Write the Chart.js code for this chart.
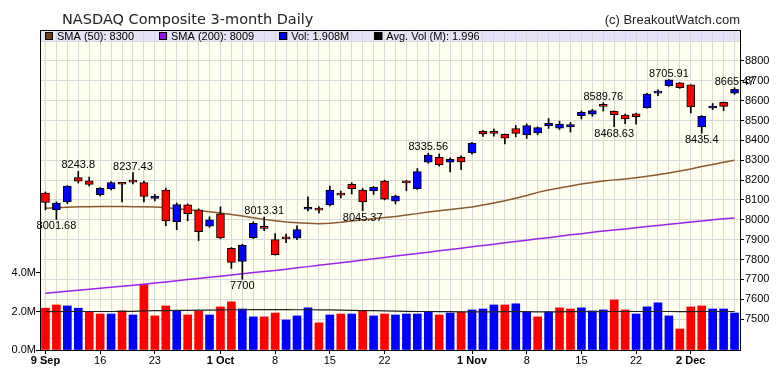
<!DOCTYPE html>
<html lang="en">
<head>
<meta charset="UTF-8">
<title>NASDAQ Composite 3-month Daily</title>
<script src="https://cdn.jsdelivr.net/npm/chart.js@4.4.1/dist/chart.umd.min.js"></script>
<style>
    body { margin: 0; background: #ffffff; }
    #wrap { width: 780px; height: 376px; }
</style>
</head>
<body>
<div id="wrap"><canvas id="chart" width="780" height="376"></canvas></div>
<script>
// trading days 9 Sep - 6 Dec
const days = [
    'Sep 9', 'Sep 10', 'Sep 11', 'Sep 12', 'Sep 13', 'Sep 16', 'Sep 17', 'Sep 18', 'Sep 19', 'Sep 20',
    'Sep 23', 'Sep 24', 'Sep 25', 'Sep 26', 'Sep 27', 'Sep 30',
    'Oct 1', 'Oct 2', 'Oct 3', 'Oct 4', 'Oct 7', 'Oct 8', 'Oct 9', 'Oct 10', 'Oct 11', 'Oct 14',
    'Oct 15', 'Oct 16', 'Oct 17', 'Oct 18', 'Oct 21', 'Oct 22', 'Oct 23', 'Oct 24', 'Oct 25', 'Oct 28',
    'Oct 29', 'Oct 30', 'Oct 31',
    'Nov 1', 'Nov 4', 'Nov 5', 'Nov 6', 'Nov 7', 'Nov 8', 'Nov 11', 'Nov 12', 'Nov 13', 'Nov 14',
    'Nov 15', 'Nov 18', 'Nov 19', 'Nov 20', 'Nov 21', 'Nov 22', 'Nov 25', 'Nov 26', 'Nov 27', 'Nov 29',
    'Dec 2', 'Dec 3', 'Dec 4', 'Dec 5', 'Dec 6'
];
const xTickIndex = [0, 5, 10, 16, 21, 26, 31, 39, 44, 49, 54, 59];
const xTickLabels = ['9 Sep', '16', '23', '1 Oct', '8', '15', '22', '1 Nov', '8', '15', '22', '2 Dec'];

const open = [
    8135, 8050, 8090, 8212, 8196, 8126, 8156, 8181, 8199, 8187,
    8108, 8150, 7990, 8075, 8050, 7968, 8030, 7856, 7790, 7910,
    7962, 7900, 7905, 7907, 8053, 8052, 8075, 8130, 8178, 8150,
    8145, 8195, 8094, 8188, 8155, 8290, 8315, 8290, 8314, 8337,
    8446, 8446, 8430, 8460, 8428, 8437, 8474, 8462, 8468, 8524,
    8532, 8580, 8547, 8528, 8534, 8563, 8638, 8675, 8690, 8680,
    8468, 8563, 8592, 8638
];
const high = [
    8140, 8090, 8172, 8243.8, 8215, 8162, 8192, 8187, 8237.43, 8195,
    8128, 8160, 8085, 8080, 8055, 8015, 8065, 7860, 7877, 7990,
    8013.31, 7930, 7928, 7970, 8115, 8067, 8170, 8145, 8187, 8158,
    8168, 8200, 8124, 8198, 8258, 8335.56, 8332, 8312, 8322, 8390,
    8450, 8457, 8432, 8475, 8483, 8468, 8510, 8497, 8490, 8548,
    8556, 8589.76, 8548, 8532, 8538, 8637, 8655, 8705.91, 8691, 8680,
    8525, 8586, 8593, 8665.47
];
const low = [
    8050, 8001.68, 8082, 8185, 8170, 8120, 8150, 8090, 8180, 8090,
    8095, 7970, 7950, 7995, 7895, 7962, 7904, 7755, 7700, 7905,
    7945, 7822, 7885, 7900, 8045, 8035, 8070, 8110, 8130, 8045.37,
    8128, 8100, 8080, 8146, 8153, 8285, 8270, 8241, 8252, 8331,
    8420, 8421, 8382, 8418, 8410, 8428, 8460, 8455, 8442, 8508,
    8522, 8548, 8468.63, 8484, 8482, 8562, 8625, 8672, 8662, 8538,
    8435.4, 8555, 8550, 8632
];
const close = [
    8087, 8084, 8170, 8194, 8178, 8158, 8188, 8179, 8190, 8118,
    8115, 7994, 8077, 8031, 7940, 8000, 7909, 7785, 7872, 7982,
    7957, 7824, 7904, 7951, 8060, 8049, 8149, 8124, 8157, 8090,
    8163, 8104, 8120, 8186, 8243, 8326, 8277, 8304, 8292, 8386,
    8433, 8435, 8411, 8435, 8475, 8464, 8486, 8482, 8479, 8541,
    8550, 8571, 8530, 8508, 8520, 8633, 8648, 8705, 8666, 8568,
    8521, 8567, 8571, 8657
];
const prevClose = 8103;

// volume in millions
const volume = [
    2.17, 2.34, 2.29, 2.17, 1.98, 1.87, 1.87, 2.03, 1.82, 3.42,
    1.77, 2.29, 2.03, 1.82, 2.03, 1.82, 2.24, 2.50, 2.13, 1.72,
    1.72, 1.92, 1.56, 1.77, 2.19, 1.41, 1.82, 1.87, 1.87, 2.03,
    1.77, 1.87, 1.82, 1.87, 1.87, 1.98, 1.82, 1.92, 1.98, 2.08,
    2.13, 2.34, 2.34, 2.40, 1.98, 1.72, 1.98, 2.19, 2.13, 2.19,
    2.03, 2.08, 2.60, 2.08, 1.87, 2.24, 2.45, 1.77, 1.09, 2.24,
    2.29, 2.13, 2.13, 1.92
];
const avgVol = [
    1.99, 1.99, 2.00, 2.00, 2.00, 2.00, 2.00, 2.01, 2.01, 2.03,
    2.04, 2.05, 2.06, 2.06, 2.07, 2.07, 2.08, 2.09, 2.09, 2.10,
    2.10, 2.10, 2.10, 2.09, 2.09, 2.08, 2.08, 2.07, 2.06, 2.05,
    2.04, 2.03, 2.02, 2.01, 2.00, 2.00, 1.99, 1.99, 1.98, 1.98,
    1.98, 1.98, 1.99, 1.99, 1.99, 1.98, 1.98, 1.98, 1.99, 1.99,
    1.99, 1.99, 2.00, 2.00, 2.00, 2.00, 2.00, 2.00, 1.99, 1.99,
    2.00, 2.00, 2.00, 2.00
];
const sma50 = [
    8058, 8061, 8063, 8065, 8066, 8067, 8067, 8067, 8066, 8065,
    8064, 8060, 8056, 8051, 8046, 8040, 8034, 8027, 8019, 8010,
    8002, 7995, 7989, 7985, 7982, 7980, 7982, 7987, 7994, 8000,
    8005, 8011, 8016, 8024, 8031, 8039, 8046, 8052, 8058, 8064,
    8074, 8085, 8096, 8108, 8122, 8138, 8150, 8160, 8170, 8180,
    8188, 8195, 8201, 8206, 8212, 8219, 8227, 8236, 8246, 8256,
    8268, 8279, 8290, 8300
];
const sma200 = [
    7630, 7635, 7640, 7645, 7650, 7655, 7660, 7665, 7670, 7675,
    7681, 7687, 7693, 7699, 7704, 7710, 7716, 7722, 7728, 7734,
    7740, 7745, 7751, 7758, 7764, 7771, 7777, 7784, 7790, 7797,
    7804, 7810, 7817, 7824, 7830, 7837, 7844, 7850, 7857, 7864,
    7870, 7877, 7884, 7890, 7897, 7904, 7910, 7917, 7924, 7930,
    7937, 7943, 7949, 7954, 7960, 7966, 7971, 7977, 7983, 7989,
    7994, 8000, 8005, 8009
];

const priceGrid = [7400, 7500, 7600, 7700, 7800, 7900, 8000, 8100, 8200, 8300, 8400, 8500, 8600, 8700, 8800, 8900];
const priceLabels = [7500, 7600, 7700, 7800, 7900, 8000, 8100, 8200, 8300, 8400, 8500, 8600, 8700, 8800];
const volTicks = [0, 2, 4];

// high / low call-outs: [day index, which end, text]
const notes = [
    [1, 'low', '8001.68'], [3, 'high', '8243.8'], [8, 'high', '8237.43'], [18, 'low', '7700'],
    [20, 'high', '8013.31'], [29, 'low', '8045.37'], [35, 'high', '8335.56'], [51, 'high', '8589.76'],
    [52, 'low', '8468.63'], [57, 'high', '8705.91'], [60, 'low', '8435.4'], [63, 'high', '8665.47']
];

const legendLabels = ['SMA (50): 8300', 'SMA (200): 8009', 'Vol: 1.908M', 'Avg. Vol (M): 1.996'];
const legendColors = ['#6e3f14', '#9a10f0', '#0000ff', '#000000'];

const UP = '#0000ff', DOWN = '#ff0000';
const bodyColors = close.map((c, i) => c >= open[i] ? UP : DOWN);
const volColors = close.map((c, i) => c >= (i ? close[i - 1] : prevClose) ? UP : DOWN);

Chart.defaults.font.family = '"Liberation Sans", Arial, sans-serif';
Chart.defaults.font.size = 11;
Chart.defaults.color = '#000';

const framePlugin = {
    id: 'frame',
    beforeDraw(chart) {
        const { ctx, chartArea: a } = chart;
        ctx.save();
        ctx.fillStyle = '#ffffef';
        ctx.fillRect(a.left, a.top, a.right - a.left, a.bottom - a.top);
        ctx.fillStyle = '#e4e4f6';
        ctx.fillRect(a.left, a.top, a.right - a.left, 11);
        ctx.restore();
    },
    afterDraw(chart) {
        const { ctx, chartArea: a, scales } = chart;
        ctx.save();

        // title and credit
        ctx.fillStyle = '#222';
        ctx.textBaseline = 'alphabetic';
        ctx.textAlign = 'left';
        ctx.font = '14.5px "DejaVu Sans"';
        ctx.fillText('NASDAQ Composite 3-month Daily', 62, 24);
        ctx.textAlign = 'right';
        ctx.font = '13px "Liberation Sans"';
        ctx.fillText('(c) BreakoutWatch.com', a.right, 24);

        // legend strip
        ctx.font = '11px "Liberation Sans"';
        ctx.textAlign = 'left';
        ctx.textBaseline = 'middle';
        let x = a.left + 5;
        legendLabels.forEach((label, k) => {
            ctx.fillStyle = legendColors[k];
            ctx.fillRect(x, a.top + 2, 8, 8);
            ctx.strokeStyle = '#000';
            ctx.lineWidth = 1;
            ctx.strokeRect(x + 0.5, a.top + 2.5, 7, 7);
            ctx.fillStyle = '#000';
            ctx.fillText(label, x + 12, a.top + 6.5);
            x += 12 + ctx.measureText(label).width + 25;
        });

        // high/low values
        ctx.textAlign = 'center';
        notes.forEach(([i, end, text]) => {
            const px = scales.x.getPixelForValue(i);
            const py = end === 'high'
                ? scales.price.getPixelForValue(high[i]) - 6
                : scales.price.getPixelForValue(low[i]) + 7;
            ctx.fillText(text, px, py);
        });

        // top edge of the frame
        ctx.strokeStyle = '#000';
        ctx.lineWidth = 1;
        ctx.beginPath();
        ctx.moveTo(a.left, a.top + 0.5);
        ctx.lineTo(a.right, a.top + 0.5);
        ctx.stroke();
        ctx.restore();
    }
};

new Chart(document.getElementById('chart'), {
    type: 'bar',
    data: {
        labels: days,
        datasets: [
            {
                type: 'line', label: 'Avg. Vol', data: avgVol, yAxisID: 'vol', order: 0,
                borderColor: '#222', borderWidth: 1.2, pointRadius: 0, tension: 0
            },
            {
                label: 'body', data: open.map((o, i) => [o, close[i]]), yAxisID: 'price', order: 1,
                backgroundColor: bodyColors, borderColor: '#000', borderWidth: 1, borderSkipped: false,
                barThickness: 8, minBarLength: 2, grouped: false
            },
            {
                label: 'wick', data: low.map((l, i) => [l, high[i]]), yAxisID: 'price', order: 2,
                backgroundColor: '#000', barThickness: 1, grouped: false
            },
            {
                type: 'line', label: 'SMA (50)', data: sma50, yAxisID: 'price', order: 3,
                borderColor: '#8b5a2b', borderWidth: 1.5, pointRadius: 0, tension: 0
            },
            {
                type: 'line', label: 'SMA (200)', data: sma200, yAxisID: 'price', order: 4,
                borderColor: '#a020f0', borderWidth: 1.5, pointRadius: 0, tension: 0
            },
            {
                label: 'Vol', data: volume, yAxisID: 'vol', order: 5,
                backgroundColor: volColors, barThickness: 8, grouped: false
            }
        ]
    },
    options: {
        responsive: false,
        devicePixelRatio: 1,
        animation: false,
        events: [],
        layout: { padding: { top: 30, left: 0, right: 0, bottom: 0 } },
        plugins: { legend: { display: false }, tooltip: { enabled: false } },
        scales: {
            x: {
                offset: true,
                afterFit: s => { s.height = 26; },
                grid: {
                    offset: false,
                    color: '#d9d9d9',
                    tickLength: 4,
                    tickColor: c => xTickIndex.includes(c.index) ? '#000' : 'rgba(0,0,0,0)'
                },
                border: { color: '#000' },
                ticks: {
                    autoSkip: false,
                    maxRotation: 0,
                    padding: 0,
                    color: '#000',
                    font: c => {
                        const k = xTickIndex.indexOf(c.index);
                        const bold = k >= 0 && /[A-Za-z]/.test(xTickLabels[k]);
                        return { size: 11, weight: bold ? 'bold' : 'normal' };
                    },
                    callback: (v, i) => {
                        const k = xTickIndex.indexOf(i);
                        return k >= 0 ? xTickLabels[k] : '';
                    }
                }
            },
            price: {
                position: 'right',
                min: 7344,
                max: 8956,
                afterBuildTicks: s => { s.ticks = priceGrid.map(v => ({ value: v })); },
                afterFit: s => { s.width = 40; },
                grid: {
                    color: '#d9d9d9',
                    tickLength: 4,
                    tickColor: c => priceLabels.includes(c.tick && c.tick.value) ? '#000' : 'rgba(0,0,0,0)'
                },
                border: { color: '#000' },
                ticks: {
                    padding: 1,
                    color: '#000',
                    callback: v => priceLabels.includes(v) ? String(v) : ''
                }
            },
            vol: {
                position: 'left',
                min: 0,
                max: 16.62,
                afterBuildTicks: s => { s.ticks = volTicks.map(v => ({ value: v })); },
                afterFit: s => { s.width = 40; },
                grid: { drawOnChartArea: false, tickLength: 4, color: '#000' },
                border: { color: '#000' },
                ticks: {
                    padding: 0,
                    color: '#000',
                    callback: v => v.toFixed(1) + 'M'
                }
            }
        }
    },
    plugins: [framePlugin]
});
</script>
</body>
</html>
